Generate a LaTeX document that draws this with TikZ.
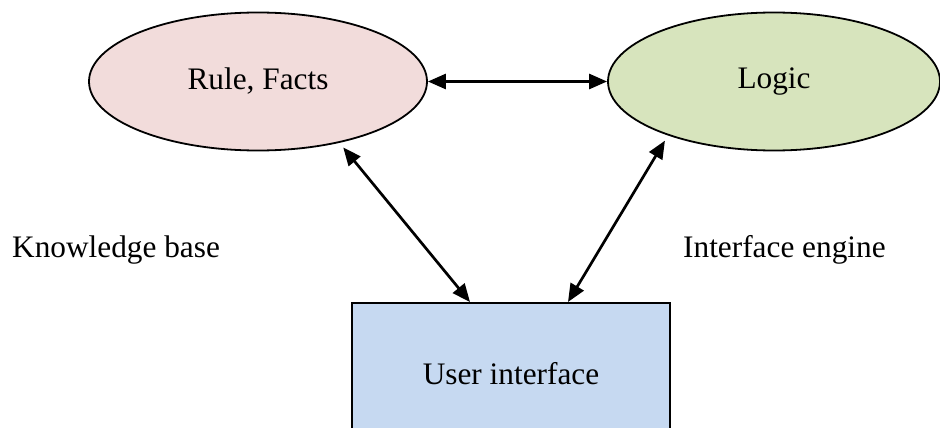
\documentclass[tikz,border=0pt]{standalone}
\usepackage{fontspec}
\setmainfont{Liberation Serif}
\usetikzlibrary{shapes.geometric,arrows.meta}
\definecolor{rulefill}{HTML}{F2DCDB}
\definecolor{logicfill}{HTML}{D7E4BD}
\definecolor{uifill}{HTML}{C6D9F1}
\tikzset{
  bubble/.style={ellipse, draw=black, line width=1.8pt, minimum width=338pt,
    minimum height=138pt, inner sep=0pt, font=\fontsize{31.3}{36}\selectfont},
  panel/.style={rectangle, draw=black, line width=2pt, fill=uifill,
    minimum width=318pt, minimum height=141pt, inner sep=0pt,
    font=\fontsize{31.3}{36}\selectfont},
  caption/.style={anchor=base west, inner sep=0pt, font=\fontsize{31.3}{36}\selectfont},
  link/.style={line width=2.7pt, {Triangle[length=18pt,width=15pt]}-{Triangle[length=18pt,width=15pt]}}
}
\begin{document}
\begin{tikzpicture}[x=1pt,y=-1pt]
  \useasboundingbox (0,0) rectangle (940,428);
  \node[bubble, fill=rulefill] (rf) at (258,81.5) {Rule, Facts};
  \node[bubble, fill=logicfill, minimum width=332pt] (lg) at (774,81.5) {Logic};
  \node[panel] (ui) at (511,373.5) {User interface};
  \node[caption] (kb) at (12,257) {Knowledge base};
  \node[caption] (ie) at (683,257) {Interface engine};
  \draw[link] (rf.east) -- (lg.west);
  \draw[link, shorten >=6pt] ([xshift=-41pt]ui.north) -- (rf.-37.5);
  \draw[link, shorten >=6pt] ([xshift=57pt]ui.north) -- (lg.207);
\end{tikzpicture}
\end{document}
